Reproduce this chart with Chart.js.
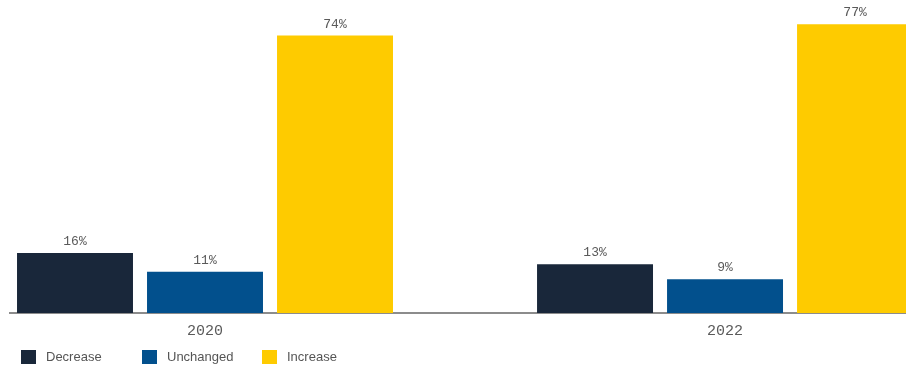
<!DOCTYPE html>
<html>
<head>
<meta charset="utf-8">
<script src="https://cdn.jsdelivr.net/npm/chart.js@4"></script>
<style>
  html, body { margin: 0; padding: 0; background: #fff; overflow: hidden; }
  #wrap { position: relative; width: 906px; height: 365px; }
  #box { position: absolute; left: 0; top: 0; width: 906px; height: 354px; }
  #legend { position: absolute; left: 0; top: 349px; width: 906px; height: 16px; }
  .item { position: absolute; top: 0; font: 13px "Liberation Sans", Arial, sans-serif; color: #555; line-height: 15px; white-space: nowrap; }
  .item i { position: absolute; left: 0; top: 1px; width: 15px; height: 14px; }
  .item span { position: absolute; left: 25px; top: 0; }
</style>
</head>
<body>
<div id="wrap">
  <div id="box"><canvas id="changeChart"></canvas></div>
  <div id="legend"></div>
</div>
<script>
const years = [2020, 2022];
const decrease = [16, 13];
const unchanged = [11, 9];
const increase = [74, 77];
const seriesNames = ['Decrease', 'Unchanged', 'Increase'];
const seriesColors = ['#19273a', '#02508d', '#fecb00'];

const toPoints = vals => years.map((y, i) => ({ x: y, y: vals[i] }));

// writes the percentage above every bar
const valueLabels = {
    id: 'valueLabels',
    afterDatasetsDraw(chart) {
        const ctx = chart.ctx;
        ctx.save();
        ctx.font = '13px "Liberation Mono", "DejaVu Sans Mono", monospace';
        ctx.fillStyle = '#5a5a5a';
        ctx.textAlign = 'center';
        ctx.textBaseline = 'alphabetic';
        chart.data.datasets.forEach((ds, di) => {
            chart.getDatasetMeta(di).data.forEach((bar, i) => {
                ctx.fillText(ds.data[i].y + '%', bar.x, bar.y - 8);
            });
        });
        ctx.restore();
    }
};

const chart = new Chart(document.getElementById('changeChart'), {
    type: 'bar',
    data: {
        datasets: [
            { label: seriesNames[0], data: toPoints(decrease), backgroundColor: seriesColors[0] },
            { label: seriesNames[1], data: toPoints(unchanged), backgroundColor: seriesColors[1] },
            { label: seriesNames[2], data: toPoints(increase), backgroundColor: seriesColors[2] }
        ]
    },
    options: {
        responsive: true,
        maintainAspectRatio: false,
        animation: false,
        categoryPercentage: 0.75,
        barPercentage: 0.892,
        layout: { padding: { left: 10, right: 0, top: 0, bottom: 5 } },
        plugins: {
            legend: { display: false },
            tooltip: { enabled: false }
        },
        scales: {
            x: {
                type: 'linear',
                offset: false,
                min: 2019.25,
                max: 2022.696,
                afterBuildTicks: scale => { scale.ticks = years.map(v => ({ value: v })); },
                grid: { display: false, drawTicks: false },
                border: { display: true, color: '#8c8c8c', width: 2 },
                ticks: {
                    padding: 9,
                    color: '#5a5a5a',
                    font: { family: '"Liberation Mono", "DejaVu Sans Mono", monospace', size: 15 },
                    callback: v => String(v)
                }
            },
            y: {
                display: false,
                min: 0,
                max: 83.5
            }
        }
    },
    plugins: [valueLabels]
});

// legend row under the chart
const legendEl = document.getElementById('legend');
const legendX = [21, 142, 262];
chart.data.datasets.forEach((ds, i) => {
    const item = document.createElement('div');
    item.className = 'item';
    item.style.left = legendX[i] + 'px';
    item.innerHTML = '<i style="background:' + ds.backgroundColor + '"></i><span>' + ds.label + '</span>';
    legendEl.appendChild(item);
});
</script>
</body>
</html>
